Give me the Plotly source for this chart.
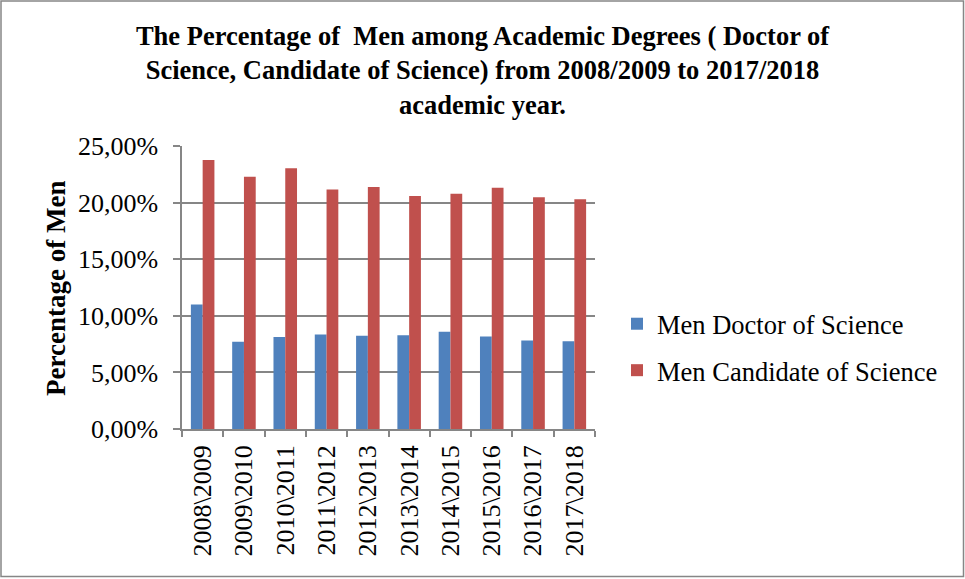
import plotly.graph_objects as go

years = ["2008\\2009", "2009\\2010", "2010\\2011", "2011\\2012", "2012\\2013",
         "2013\\2014", "2014\\2015", "2015\\2016", "2016\\2017", "2017\\2018"]
doctor = [0.1100, 0.0771, 0.0812, 0.0835, 0.0824, 0.0829, 0.0859, 0.0818, 0.0782, 0.0776]
candidate = [0.2376, 0.2229, 0.2303, 0.2115, 0.2138, 0.2059, 0.2079, 0.2132, 0.2047, 0.2029]

W, H = 965, 579
L, R, T, B = 182, 370, 146, 150
pw, ph = W - L - R, H - T - B
FONT = "Liberation Serif, Times New Roman, serif"

fig = go.Figure()
fig.add_trace(go.Bar(x=years, y=doctor, name="Men Doctor of Science",
                     marker=dict(color="#4F81BD", line=dict(width=0)), legendgroup="a"))
fig.add_trace(go.Bar(x=years, y=candidate, name="Men Candidate of Science",
                     marker=dict(color="#C0504D", line=dict(width=0)), legendgroup="b"))

fig.update_layout(
    width=W, height=H,
    margin=dict(l=L, r=R, t=T, b=B, autoexpand=False),
    paper_bgcolor="white", plot_bgcolor="white",
    separators=",.",
    font=dict(family=FONT, color="black", size=20),
    barmode="group", bargap=0.43, bargroupgap=0,
    title=dict(
        text="The Percentage of  Men among Academic Degrees ( Doctor of<br>"
             "Science, Candidate of Science) from 2008/2009 to 2017/2018<br>academic year.",
        x=0.5, xanchor="center", y=1 - 45 / H, yanchor="top",
        font=dict(family=FONT, size=26.5, color="black", weight="bold"),
    ),
    legend=dict(x=(617 - L) / pw, xanchor="left", y=(429 - 347) / ph, yanchor="middle",
                font=dict(family=FONT, size=26.5), traceorder="grouped", tracegroupgap=9,
                bgcolor="rgba(0,0,0,0)"),
    showlegend=True,
)
fig.update_xaxes(
    tickangle=-90, showline=True, linecolor="#868686", linewidth=1.5,
    ticks="outside", tickson="boundaries", ticklen=6, tickcolor="#868686", tickwidth=1.5,
    tickfont=dict(family=FONT, size=26), showgrid=False, ticklabelstandoff=4,
)
fig.update_yaxes(
    range=[0, 0.25], dtick=0.05, tickformat=".2%",
    showline=True, linecolor="#868686", linewidth=1.5,
    ticks="outside", ticklen=7, tickcolor="#868686", tickwidth=1.5,
    showgrid=True, gridcolor="#868686", gridwidth=1.5, zeroline=False,
    tickfont=dict(family=FONT, size=26), ticklabelstandoff=10,
)
# y-axis title placed as an annotation
fig.add_annotation(text="<b>Percentage of Men</b>", xref="paper", yref="paper",
                   x=(56 - L) / pw, y=(429 - 288) / ph, xanchor="center", yanchor="middle",
                   textangle=-90, showarrow=False, font=dict(family=FONT, size=27))
# outer chart border
fig.add_shape(type="rect", xref="paper", yref="paper",
              x0=(1 - L) / pw, x1=(963.5 - L) / pw,
              y0=(H - B - 576.5) / ph, y1=(H - B - 1) / ph,
              line=dict(color="#868686", width=1.5), fillcolor="rgba(0,0,0,0)", layer="below")

fig.write_html("out.html", config={"displayModeBar": False})
with open("out.html", "r", encoding="utf-8") as f:
    html = f.read()
html = html.replace("<body>", '<body style="margin:0;padding:0;overflow:hidden">', 1)
with open("out.html", "w", encoding="utf-8") as f:
    f.write(html)
